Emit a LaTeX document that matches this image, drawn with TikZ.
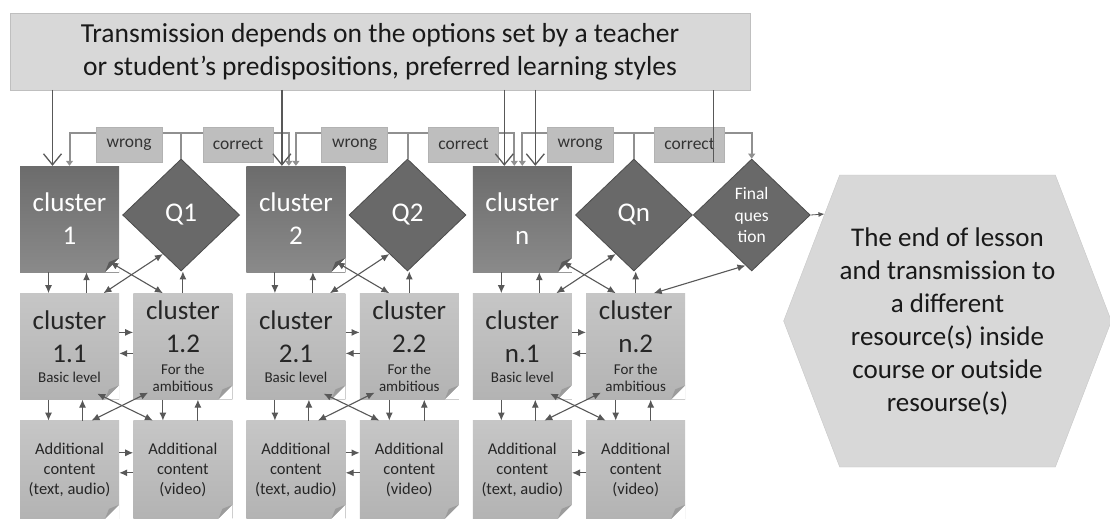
\documentclass[tikz,border=0pt]{standalone}
\usepackage{fontspec}
\setmainfont{Carlito}
\usetikzlibrary{positioning,shapes.geometric,shapes.symbols,arrows.meta}

\definecolor{lineGray}{HTML}{585858}
\definecolor{feedGray}{HTML}{909090}
\definecolor{topDark}{HTML}{6C6C6C}
\definecolor{bottomDark}{HTML}{8A8A8A}
\definecolor{foldDark}{HTML}{5A5A5A}
\definecolor{qGray}{HTML}{696969}
\definecolor{topLight}{HTML}{C6C6C6}
\definecolor{bottomLight}{HTML}{B3B3B3}
\definecolor{foldLight}{HTML}{9C9C9C}
\definecolor{tagGray}{HTML}{BEBEBE}
\definecolor{paleGray}{HTML}{D8D8D8}

\newcommand{\smalltxt}{\fontsize{15}{18}\selectfont}

\tikzset{
  fold/.style={path picture={
      \fill[white] ([xshift=-14pt]path picture bounding box.south east) -- (path picture bounding box.south east)
        -- ([yshift=14pt]path picture bounding box.south east) -- cycle;
      \fill[#1] ([xshift=-14pt]path picture bounding box.south east) -- ([yshift=14pt]path picture bounding box.south east)
        -- ([xshift=-10pt,yshift=10pt]path picture bounding box.south east) -- cycle;}},
  clusterbox/.style={rectangle, inner sep=0pt, minimum width=99pt, minimum height=106pt, align=center,
    top color=topDark, bottom color=bottomDark, text=white, font=\fontsize{27}{33}\selectfont, fold=foldDark},
  subbox/.style={rectangle, inner sep=0pt, minimum width=99pt, minimum height=106pt, align=center,
    top color=topLight, bottom color=bottomLight, text=black!85, font=\fontsize{27}{33}\selectfont, fold=foldLight},
  addbox/.style={subbox, minimum height=98pt, font=\fontsize{16.5}{20}\selectfont},
  qbox/.style={diamond, inner sep=0pt, minimum width=117pt, minimum height=112pt, align=center,
    draw=black!70, line width=0.8pt, fill=qGray, text=white, font=\fontsize{27}{33}\selectfont},
  tag/.style={rectangle, inner sep=0pt, minimum height=35pt, draw=black!30, fill=tagGray,
    text=black!80, font=\fontsize{17.5}{20}\selectfont},
  banner/.style={rectangle, minimum width=740pt, minimum height=77pt, align=center,
    draw=black!25, fill=paleGray, text=black!90, font=\fontsize{27.5}{33}\selectfont},
  endbox/.style={signal, signal to=west and east, signal pointer angle=138, inner sep=0pt,
    minimum width=321pt, minimum height=292pt, align=center, draw=black!22, fill=paleGray,
    text=black!90, font=\fontsize{27}{33}\selectfont},
  arr/.style={draw=lineGray, line width=1.1pt, -{Latex[length=8pt,width=7pt]}},
  dbl/.style={draw=lineGray, line width=1.1pt, {Latex[length=8pt,width=7pt]}-{Latex[length=8pt,width=7pt]}},
  feed/.style={draw=feedGray, line width=2pt, -{Triangle[length=5pt,width=7pt]}},
  barrow/.style={draw=lineGray, line width=1.3pt, -{Straight Barb[length=11pt,width=18pt]}}
}

\begin{document}
\begin{tikzpicture}[x=1pt,y=-1pt]
  \useasboundingbox[fill=white] (0,0) rectangle (1110,520);

  % Nodos
  \node[banner] (top) at (380,51.5) {Transmission depends on the options set by a teacher\\or student's predispositions, preferred learning styles};

  \node[clusterbox] (c1) at (69.5,219) {cluster\\1};
  \node[qbox] (q1) [right=3pt of c1, yshift=4pt] {Q1};
  \node[clusterbox] (c2) [right=127pt of c1] {cluster\\2};
  \node[qbox] (q2) [right=3pt of c2, yshift=4pt] {Q2};
  \node[clusterbox] (cn) [right=127pt of c2] {cluster\\n};
  \node[qbox] (qn) [right=3pt of cn, yshift=4pt] {Qn};
  \node[qbox, font=\fontsize{17.5}{21.5}\selectfont] (fq) [right=0pt of qn] {Final\\ques\\tion};

  \node[subbox] (c11) [below=21pt of c1] {cluster\\1.1\\[-13pt]\smalltxt Basic level};
  \node[subbox] (c12) [right=14pt of c11] {cluster\\1.2\\[-11pt]\smalltxt For the\\[-16pt]\smalltxt ambitious};
  \node[subbox] (c21) [below=21pt of c2] {cluster\\2.1\\[-13pt]\smalltxt Basic level};
  \node[subbox] (c22) [right=14pt of c21] {cluster\\2.2\\[-11pt]\smalltxt For the\\[-16pt]\smalltxt ambitious};
  \node[subbox] (cn1) [below=21pt of cn] {cluster\\n.1\\[-13pt]\smalltxt Basic level};
  \node[subbox] (cn2) [right=14pt of cn1] {cluster\\n.2\\[-11pt]\smalltxt For the\\[-16pt]\smalltxt ambitious};

  \node[addbox] (a11) [below=21pt of c11] {Additional\\content\\(text, audio)};
  \node[addbox] (a12) [right=14pt of a11] {Additional\\content\\(video)};
  \node[addbox] (a21) [below=21pt of c21] {Additional\\content\\(text, audio)};
  \node[addbox] (a22) [right=14pt of a21] {Additional\\content\\(video)};
  \node[addbox] (an1) [below=21pt of cn1] {Additional\\content\\(text, audio)};
  \node[addbox] (an2) [right=14pt of an1] {Additional\\content\\(video)};

  \node[endbox] (end) at (947.5,321) {The end of lesson\\and transmission to\\a different\\resource(s) inside\\course or outside\\resourse(s)};

  % Flechas del bloque 1
  \draw[arr] ([xshift=-21pt]c1.south) -- ([xshift=-21pt]c11.north);
  \draw[arr] ([xshift=17pt]c11.north) -- ([xshift=17pt]c1.south);
  \draw[dbl] ([xshift=-9pt,yshift=10pt]c1.south east) -- ([xshift=-20pt]c12.north);
  \draw[dbl] (q1.245) -- ([xshift=34pt]c11.north);
  \draw[arr] (c12.north) -- (c12.north |- q1.south);
  \draw[arr] ([yshift=14pt]c11.east) -- ([yshift=14pt]c12.west);
  \draw[arr] ([yshift=-7pt]c12.west) -- ([yshift=-7pt]c11.east);
  \draw[arr] ([xshift=-21pt]c11.south) -- ([xshift=-21pt]a11.north);
  \draw[arr] ([xshift=13pt]a11.north) -- ([xshift=13pt]c11.south);
  \draw[dbl] ([xshift=-22pt,yshift=6pt]c11.south east) -- ([xshift=-30pt]a12.north);
  \draw[dbl] ([xshift=15pt,yshift=7pt]c12.south west) -- ([xshift=22pt]a11.north);
  \draw[arr] ([xshift=-20pt]c12.south) -- ([xshift=-20pt]a12.north);
  \draw[arr] ([xshift=15pt]a12.north) -- ([xshift=15pt]c12.south);
  \draw[arr] ([yshift=17pt]a11.east) -- ([yshift=17pt]a12.west);
  \draw[arr] ([yshift=-3pt]a12.west) -- ([yshift=-3pt]a11.east);

  % Flechas del bloque 2
  \draw[arr] ([xshift=-21pt]c2.south) -- ([xshift=-21pt]c21.north);
  \draw[arr] ([xshift=17pt]c21.north) -- ([xshift=17pt]c2.south);
  \draw[dbl] ([xshift=-9pt,yshift=10pt]c2.south east) -- ([xshift=-20pt]c22.north);
  \draw[dbl] (q2.245) -- ([xshift=34pt]c21.north);
  \draw[arr] (c22.north) -- (c22.north |- q2.south);
  \draw[arr] ([yshift=14pt]c21.east) -- ([yshift=14pt]c22.west);
  \draw[arr] ([yshift=-7pt]c22.west) -- ([yshift=-7pt]c21.east);
  \draw[arr] ([xshift=-21pt]c21.south) -- ([xshift=-21pt]a21.north);
  \draw[arr] ([xshift=13pt]a21.north) -- ([xshift=13pt]c21.south);
  \draw[dbl] ([xshift=-22pt,yshift=6pt]c21.south east) -- ([xshift=-30pt]a22.north);
  \draw[dbl] ([xshift=15pt,yshift=7pt]c22.south west) -- ([xshift=22pt]a21.north);
  \draw[arr] ([xshift=-20pt]c22.south) -- ([xshift=-20pt]a22.north);
  \draw[arr] ([xshift=15pt]a22.north) -- ([xshift=15pt]c22.south);
  \draw[arr] ([yshift=17pt]a21.east) -- ([yshift=17pt]a22.west);
  \draw[arr] ([yshift=-3pt]a22.west) -- ([yshift=-3pt]a21.east);

  % Flechas del bloque n
  \draw[arr] ([xshift=-21pt]cn.south) -- ([xshift=-21pt]cn1.north);
  \draw[arr] ([xshift=17pt]cn1.north) -- ([xshift=17pt]cn.south);
  \draw[dbl] ([xshift=-9pt,yshift=10pt]cn.south east) -- ([xshift=-20pt]cn2.north);
  \draw[dbl] (qn.245) -- ([xshift=34pt]cn1.north);
  \draw[arr] (cn2.north) -- (cn2.north |- qn.south);
  \draw[dbl] ([xshift=18pt]cn2.north) -- (fq.263);
  \draw[arr] ([yshift=14pt]cn1.east) -- ([yshift=14pt]cn2.west);
  \draw[arr] ([yshift=-7pt]cn2.west) -- ([yshift=-7pt]cn1.east);
  \draw[arr] ([xshift=-21pt]cn1.south) -- ([xshift=-21pt]an1.north);
  \draw[arr] ([xshift=13pt]an1.north) -- ([xshift=13pt]cn1.south);
  \draw[dbl] ([xshift=-22pt,yshift=6pt]cn1.south east) -- ([xshift=-30pt]an2.north);
  \draw[dbl] ([xshift=15pt,yshift=7pt]cn2.south west) -- ([xshift=22pt]an1.north);
  \draw[arr] ([xshift=-20pt]cn2.south) -- ([xshift=-20pt]an2.north);
  \draw[arr] ([xshift=15pt]an2.north) -- ([xshift=15pt]cn2.south);
  \draw[arr] ([yshift=17pt]an1.east) -- ([yshift=17pt]an2.west);
  \draw[arr] ([yshift=-3pt]an2.west) -- ([yshift=-3pt]an1.east);

  \draw[lineGray, line width=0.8pt, -{Latex[length=6pt,width=5pt]}] (fq.east) -- (end.139);

  % wrong / correct
  \draw[feed] (q1.north) -- ++(0,-26) -| (c1.north);
  \draw[feed] (q1.north) ++(0,-26) -| ([xshift=-7pt]c2.north);
  \draw[feed] (q2.north) -- ++(0,-26) -| (c2.north);
  \draw[feed] (q2.north) ++(0,-26) -| ([xshift=-8pt]cn.north);
  \draw[feed] (qn.north) -- ++(0,-26) -| (cn.north);
  \draw[feed] (qn.north) ++(0,-26) -| (fq.north);

  \node[tag, minimum width=66pt] (w1) at (129,144.5) {wrong};
  \node[tag, minimum width=70pt] (k1) at (238,144.5) {correct};
  \node[tag, minimum width=66pt] (w2) at (354.5,144.5) {wrong};
  \node[tag, minimum width=70pt] (k2) at (463.5,144.5) {correct};
  \node[tag, minimum width=66pt] (wn) at (580,144.5) {wrong};
  \node[tag, minimum width=70pt] (kn) at (689.5,144.5) {correct};

  % Desde el texto de arriba
  \draw[barrow] ([xshift=-17pt]c1.north) ++(0,-76) -- ([xshift=-17pt]c1.north);
  \draw[barrow] ([xshift=-14pt]c2.north) ++(0,-76) -- ([xshift=-14pt]c2.north);
  \draw[barrow] ([xshift=-18pt]cn.north) ++(0,-76) -- ([xshift=-18pt]cn.north);
  \draw[barrow] ([xshift=13pt]cn.north) ++(0,-76) -- ([xshift=13pt]cn.north);
  \coordinate (k) at ([xshift=24pt]kn.south);
  \draw[lineGray, line width=1.2pt] (k) -- (k |- top.south);
\end{tikzpicture}
\end{document}
